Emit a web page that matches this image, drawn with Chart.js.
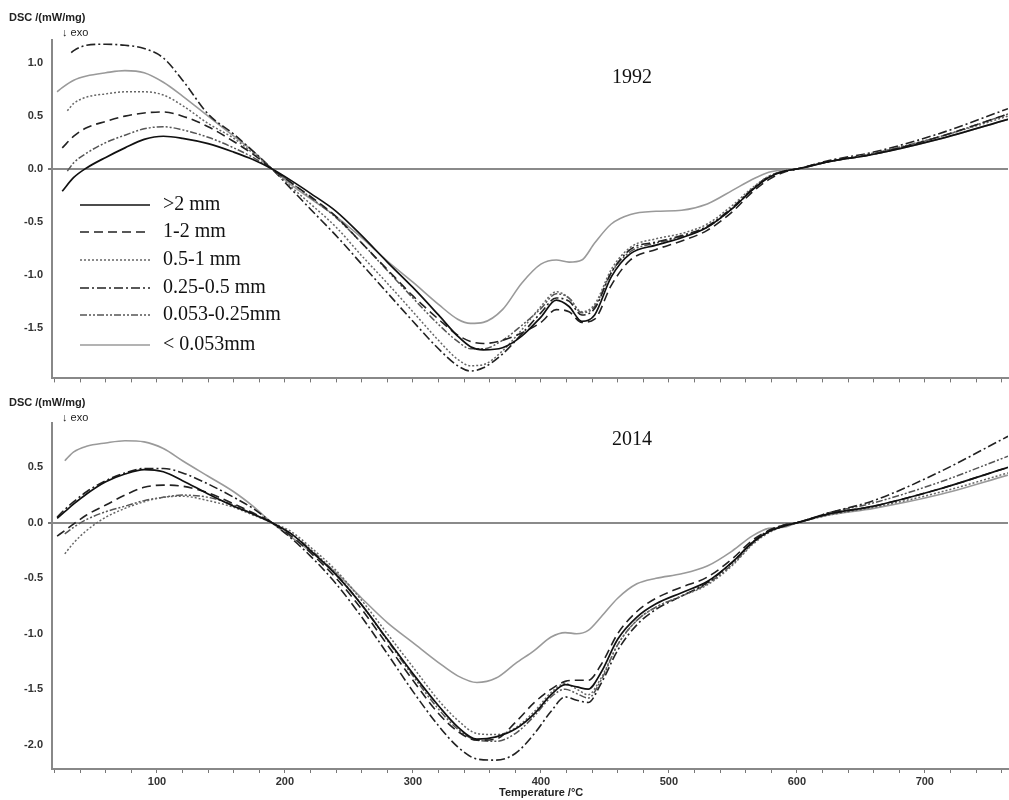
<!DOCTYPE html>
<html>
<head>
<meta charset="utf-8">
<script src="https://cdn.jsdelivr.net/npm/chart.js@4.4.1/dist/chart.umd.min.js"></script>
<style>
  html, body { margin: 0; padding: 0; background: #fff; }
  #wrap { position: relative; width: 1009px; height: 800px; overflow: hidden; }
  #cTop { position: absolute; left: 0; top: 0; }
  #cBottom { position: absolute; left: 0; top: 390px; }
</style>
</head>
<body>
<div id="wrap">
  <canvas id="cTop" width="1009" height="390"></canvas>
  <canvas id="cBottom" width="1009" height="410"></canvas>
</div>
<script>
// particle size classes (legend order)
const sizeLabels = ['>2 mm', '1-2 mm', '0.5-1 mm', '0.25-0.5 mm', '0.053-0.25mm', '< 0.053mm'];

// ---- 1992 panel, temperature (°C) and DSC (mW/mg)
const t1992 = [22, 26, 35, 45, 60, 75, 90, 105, 120, 140,
  160, 175, 190, 205, 220, 240, 260, 280, 300, 320,
  335, 345, 355, 370, 385, 400, 412, 422, 432, 442,
  455, 470, 490, 510, 530, 550, 565, 578, 590, 600,
  625, 660, 710, 765];
const gt2_1992 = [null, -0.21, -0.08, 0.01, 0.11, 0.20, 0.28, 0.31, 0.29, 0.24,
  0.16, 0.09, 0.0, -0.11, -0.23, -0.40, -0.63, -0.88, -1.12, -1.38,
  -1.58, -1.68, -1.71, -1.69, -1.58, -1.40, -1.24, -1.30, -1.44, -1.38,
  -1.02, -0.80, -0.72, -0.65, -0.55, -0.37, -0.20, -0.08, -0.02, 0.0,
  0.07, 0.14, 0.28, 0.47];
const mm1to2_1992 = [null, 0.20, 0.31, 0.39, 0.45, 0.50, 0.53, 0.54, 0.50, 0.40,
  0.26, 0.14, 0.0, -0.13, -0.26, -0.45, -0.70, -0.95, -1.20, -1.42,
  -1.57, -1.63, -1.65, -1.62, -1.55, -1.45, -1.33, -1.35, -1.45, -1.42,
  -1.10, -0.86, -0.76, -0.68, -0.58, -0.40, -0.22, -0.10, -0.03, 0.0,
  0.07, 0.14, 0.30, 0.52];
const mm05to1_1992 = [null, null, 0.62, 0.68, 0.71, 0.73, 0.73, 0.70, 0.60, 0.43,
  0.29, 0.15, 0.0, -0.17, -0.33, -0.55, -0.82, -1.08, -1.35, -1.62,
  -1.80, -1.86, -1.85, -1.72, -1.52, -1.30, -1.16, -1.22, -1.35, -1.28,
  -0.95, -0.74, -0.66, -0.61, -0.52, -0.34, -0.18, -0.07, -0.02, 0.0,
  0.07, 0.15, 0.30, 0.50];
const mm025to05_1992 = [null, null, 1.12, 1.17, 1.18, 1.17, 1.14, 1.05, 0.84, 0.52,
  0.33, 0.17, 0.0, -0.19, -0.38, -0.63, -0.90, -1.17, -1.44, -1.70,
  -1.86, -1.91, -1.88, -1.75, -1.56, -1.36, -1.22, -1.25, -1.38, -1.32,
  -0.98, -0.76, -0.69, -0.63, -0.54, -0.36, -0.19, -0.07, -0.02, 0.0,
  0.08, 0.16, 0.33, 0.57];
const mm0053to025_1992 = [null, null, 0.06, 0.15, 0.25, 0.32, 0.38, 0.40, 0.37, 0.30,
  0.20, 0.11, 0.0, -0.13, -0.27, -0.46, -0.70, -0.96, -1.22, -1.47,
  -1.63, -1.70, -1.70, -1.62, -1.48, -1.32, -1.18, -1.22, -1.36, -1.30,
  -0.98, -0.78, -0.70, -0.64, -0.55, -0.37, -0.20, -0.08, -0.02, 0.0,
  0.07, 0.15, 0.30, 0.52];
const lt0053_1992 = [0.73, 0.77, 0.84, 0.88, 0.91, 0.93, 0.91, 0.82, 0.69, 0.50,
  0.31, 0.17, 0.0, -0.15, -0.28, -0.45, -0.65, -0.87, -1.07, -1.28,
  -1.42, -1.46, -1.45, -1.33, -1.08, -0.90, -0.86, -0.88, -0.86, -0.70,
  -0.52, -0.43, -0.40, -0.39, -0.33, -0.20, -0.10, -0.03, -0.01, 0.0,
  0.07, 0.14, 0.28, 0.47];
// first [T, DSC] of the 1992 traces that start a little later (keyed by size class index)
const firstPts1992 = { 2: [30, 0.55], 3: [33, 1.10], 4: [30, -0.02] };

// ---- 2014 panel
const t2014 = [22, 28, 35, 45, 60, 75, 90, 105, 120, 140,
  160, 175, 190, 205, 220, 240, 260, 280, 300, 320,
  335, 350, 365, 380, 395, 408, 419, 428, 437, 447,
  460, 475, 490, 510, 530, 550, 565, 578, 590, 600,
  625, 660, 710, 765];
const gt2_2014 = [0.04, 0.10, 0.17, 0.26, 0.37, 0.44, 0.48, 0.46, 0.38, 0.26,
  0.15, 0.08, 0.0, -0.10, -0.25, -0.47, -0.74, -1.05, -1.36, -1.65,
  -1.84, -1.95, -1.93, -1.86, -1.72, -1.55, -1.46, -1.48, -1.50, -1.35,
  -1.05, -0.85, -0.73, -0.63, -0.53, -0.35, -0.18, -0.08, -0.03, 0.0,
  0.08, 0.15, 0.30, 0.50];
const mm1to2_2014 = [-0.12, -0.07, -0.01, 0.07, 0.16, 0.25, 0.32, 0.34, 0.33, 0.27,
  0.17, 0.09, 0.0, -0.12, -0.27, -0.50, -0.78, -1.10, -1.42, -1.72,
  -1.88, -1.96, -1.95, -1.80, -1.62, -1.50, -1.43, -1.42, -1.42, -1.28,
  -1.00, -0.80, -0.68, -0.58, -0.49, -0.32, -0.16, -0.07, -0.02, 0.0,
  0.08, 0.15, 0.30, 0.50];
const mm05to1_2014 = [null, -0.28, -0.18, -0.07, 0.05, 0.13, 0.19, 0.23, 0.24, 0.20,
  0.14, 0.07, 0.0, -0.08, -0.22, -0.43, -0.70, -1.00, -1.30, -1.60,
  -1.78, -1.90, -1.91, -1.85, -1.70, -1.53, -1.45, -1.50, -1.55, -1.40,
  -1.10, -0.88, -0.76, -0.66, -0.56, -0.38, -0.20, -0.09, -0.03, 0.0,
  0.07, 0.14, 0.27, 0.45];
const mm025to05_2014 = [0.05, 0.12, 0.19, 0.28, 0.38, 0.45, 0.49, 0.49, 0.45, 0.35,
  0.23, 0.13, 0.0, -0.14, -0.30, -0.55, -0.85, -1.18, -1.52, -1.83,
  -2.02, -2.13, -2.14, -2.08, -1.90, -1.70, -1.57, -1.60, -1.62, -1.45,
  -1.15, -0.92, -0.78, -0.66, -0.54, -0.35, -0.18, -0.07, -0.02, 0.0,
  0.09, 0.20, 0.45, 0.78];
const mm0053to025_2014 = [null, -0.10, -0.04, 0.03, 0.10, 0.15, 0.20, 0.23, 0.25, 0.23,
  0.16, 0.08, 0.0, -0.10, -0.24, -0.46, -0.74, -1.06, -1.38, -1.68,
  -1.86, -1.96, -1.97, -1.90, -1.74, -1.57, -1.50, -1.54, -1.58, -1.42,
  -1.10, -0.88, -0.76, -0.66, -0.55, -0.37, -0.19, -0.08, -0.03, 0.0,
  0.09, 0.18, 0.36, 0.60];
const lt0053_2014 = [null, 0.56, 0.64, 0.69, 0.72, 0.74, 0.73, 0.67, 0.56, 0.42,
  0.28, 0.15, 0.0, -0.13, -0.26, -0.45, -0.68, -0.90, -1.08, -1.26,
  -1.38, -1.44, -1.40, -1.27, -1.15, -1.03, -0.99, -1.00, -0.97, -0.85,
  -0.68, -0.55, -0.50, -0.46, -0.39, -0.25, -0.12, -0.05, -0.04, 0.0,
  0.07, 0.13, 0.25, 0.43];

// line look for each size class
const lineStyles = [
  { color: '#111', width: 1.7, dash: [] },
  { color: '#222', width: 1.6, dash: [9, 5] },
  { color: '#666', width: 1.5, dash: [2, 2] },
  { color: '#222', width: 1.6, dash: [9, 3, 2, 3] },
  { color: '#555', width: 1.5, dash: [7, 2, 2, 2, 2, 2] },
  { color: '#9a9a9a', width: 1.6, dash: [] },
];

const SANS = '"Liberation Sans", Arial, sans-serif';
const SERIF = '"Liberation Serif", "Times New Roman", serif';

function toPoints(temps, vals){
  return temps.map((t, i) => ({ x: t, y: vals[i] })).filter(p => p.y !== null);
}

function datasets(temps, series, starts){
  return series.map((vals, i) => {
    const pts = toPoints(temps, vals);
    if (starts && starts[i] !== undefined) pts.unshift({ x: starts[i][0], y: starts[i][1] });
    return {
      label: sizeLabels[i],
      data: pts,
      borderColor: lineStyles[i].color,
      borderWidth: lineStyles[i].width,
      borderDash: lineStyles[i].dash,
      pointRadius: 0,
      fill: false,
      cubicInterpolationMode: 'monotone',
    };
  });
}

// evenly spaced ticks inside [min, max]
function stepTicks(scale, step){
  const out = [];
  const a = Math.ceil(scale.min / step - 1e-9), b = Math.floor(scale.max / step + 1e-9);
  for (let k = a; k <= b; k++) out.push({ value: Math.round(k * step * 1000) / 1000 });
  scale.ticks = out;
}

// texts drawn on the canvas: axis unit, exo arrow, year, x title, and (top only) legend
function textPlugin(cfg){
  return {
    id: 'texts',
    afterDraw(chart){
      const ctx = chart.ctx;
      ctx.save();
      ctx.fillStyle = '#222';
      ctx.textBaseline = 'middle';
      ctx.textAlign = 'left';
      ctx.font = 'bold 11px ' + SANS;
      ctx.fillText('DSC /(mW/mg)', 9, cfg.unitY);
      ctx.font = '11px ' + SANS;
      ctx.fillText('\u2193 exo', 62, cfg.unitY + 15);
      if (cfg.xTitle){
        ctx.font = 'bold 11px ' + SANS;
        ctx.fillText(cfg.xTitle, 499, chart.height - 7);
      }
      ctx.fillStyle = '#111';
      ctx.font = '20px ' + SERIF;
      ctx.fillText(cfg.year, 612, cfg.yearY);
      if (cfg.legend){
        const rows = [205, 232, 260, 288, 315, 345];
        chart.data.datasets.forEach((ds, i) => {
          ctx.save();
          ctx.strokeStyle = ds.borderColor;
          ctx.lineWidth = ds.borderWidth;
          ctx.setLineDash(ds.borderDash);
          ctx.beginPath();
          ctx.moveTo(80, rows[i]);
          ctx.lineTo(150, rows[i]);
          ctx.stroke();
          ctx.restore();
          ctx.fillStyle = '#111';
          ctx.font = '20px ' + SERIF;
          ctx.fillText(ds.label, 163, rows[i]);
        });
      }
      ctx.restore();
    }
  };
}

function makeChart(id, temps, series, o){
  return new Chart(document.getElementById(id), {
    type: 'line',
    data: { datasets: datasets(temps, series, o.starts) },
    plugins: [textPlugin(o)],
    options: {
      responsive: false,
      animation: false,
      devicePixelRatio: 1,
      layout: { padding: { top: o.padTop, right: 1, left: 0, bottom: 0 } },
      plugins: { legend: { display: false }, tooltip: { enabled: false } },
      scales: {
        x: {
          type: 'linear',
          bounds: 'data',
          min: 18, max: 765,
          afterBuildTicks: s => stepTicks(s, 20),
          afterFit: s => { s.height = o.xHeight; },
          border: { color: '#888', width: 2 },
          grid: { drawOnChartArea: false, tickLength: 4, tickColor: '#777' },
          ticks: {
            maxRotation: 0, autoSkip: false,
            padding: 2, color: '#333', font: { family: SANS, size: 11, weight: 'bold' },
            callback: v => (o.xTitle && v % 100 === 0) ? String(v) : ''
          }
        },
        y: {
          bounds: 'data',
          min: o.yMin, max: o.yMax,
          afterBuildTicks: s => stepTicks(s, 0.1),
          afterFit: s => { s.width = 52; },
          border: { color: '#888', width: 2 },
          grid: {
            drawOnChartArea: true, tickLength: 4, tickColor: '#777',
            color: c => Math.abs(c.tick.value) < 1e-6 ? '#8a8a8a' : 'rgba(0,0,0,0)',
            lineWidth: c => Math.abs(c.tick.value) < 1e-6 ? 2 : 0
          },
          ticks: {
            autoSkip: false, padding: 5,
            color: '#333', font: { family: SANS, size: 11, weight: 'bold' },
            callback: v => {
              const r = Math.round(v * 10);
              return r % 5 === 0 ? (r / 10).toFixed(1) : '';
            }
          }
        }
      }
    }
  });
}

makeChart('cTop', t1992,
  [gt2_1992, mm1to2_1992, mm05to1_1992, mm025to05_1992, mm0053to025_1992, lt0053_1992],
  { padTop: 40, xHeight: 7, yMin: -1.98, yMax: 1.22, xTitle: '',
    unitY: 18, yearY: 78, year: '1992', legend: true, starts: firstPts1992 });

makeChart('cBottom', t2014,
  [gt2_2014, mm1to2_2014, mm05to1_2014, mm025to05_2014, mm0053to025_2014, lt0053_2014],
  { padTop: 33, xHeight: 31, yMin: -2.22, yMax: 0.9, xTitle: 'Temperature /\u00B0C',
    unitY: 13, yearY: 50, year: '2014', legend: false });
</script>
</body>
</html>
